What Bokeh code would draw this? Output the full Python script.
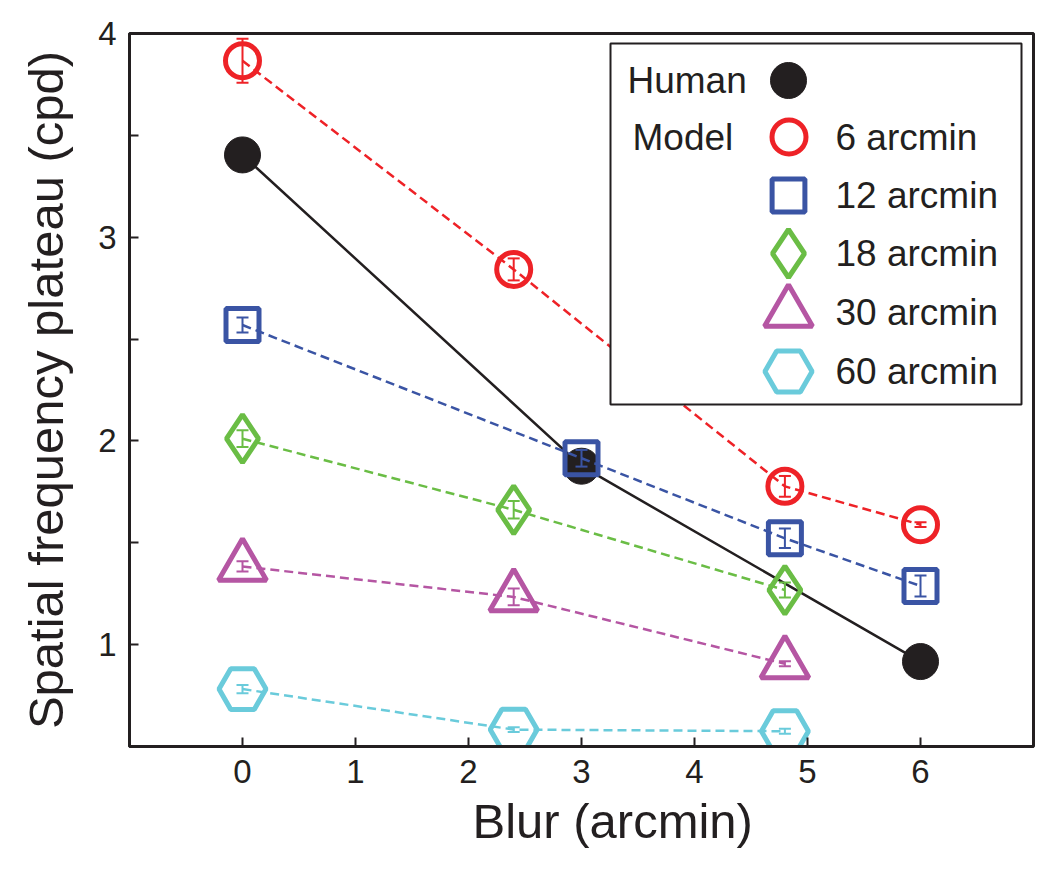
from bokeh.plotting import figure
from bokeh.models import (Range1d, FixedTicker, Whisker, TeeHead, ColumnDataSource,
                          Legend, LegendItem, Label, BoxAnnotation, Title)
from bokeh.embed import file_html
from bokeh.resources import INLINE

# ---------------- data ----------------
blur_human = [0, 3, 6]
plateau_human = [3.404, 1.876, 0.917]

blur_6 = [0, 2.4, 4.8, 6]
plateau_6 = [3.866, 2.842, 1.777, 1.589]
err_6 = [0.108, 0.054, 0.051, 0.012]

blur_12 = [0, 3, 4.8, 6]
plateau_12 = [2.569, 1.915, 1.522, 1.288]
err_12 = [0.037, 0.041, 0.048, 0.052]

blur_18 = [0, 2.4, 4.8]
plateau_18 = [2.011, 1.662, 1.268]
err_18 = [0.041, 0.043, 0.037]

blur_30 = [0, 2.4, 4.8]
plateau_30 = [1.384, 1.234, 0.906]
err_30 = [0.025, 0.041, 0.012]

blur_60 = [0, 2.4, 4.8]
plateau_60 = [0.782, 0.583, 0.575]
err_60 = [0.020, 0.012, 0.012]

series_labels = ["6 arcmin", "12 arcmin", "18 arcmin", "30 arcmin", "60 arcmin"]
x_ticks = [0, 1, 2, 3, 4, 5, 6]
y_ticks = [1, 2, 3, 4]
y_minor_ticks = [1.5, 2.5, 3.5]

# ---------------- styles ----------------
INK = "#231F20"
FONT = "Liberation Sans"
colors = ["#EE2227", "#3A54A4", "#6ABD45", "#B556A3", "#6ACBDB"]
markers = ["circle", "square", "diamond", "triangle", "hex"]
msizes = [34, 33, 48, 48, 47]

FRAME_W, FRAME_H = 904, 713
p = figure(frame_width=FRAME_W, frame_height=FRAME_H,
           x_range=Range1d(-1, 7), y_range=Range1d(0.5, 4),
           output_backend="svg", toolbar_location=None,
           min_border_left=129, min_border_top=33, min_border_right=8, min_border_bottom=118)
p.grid.visible = False
p.background_fill_color = "white"
p.outline_line_color = INK
p.outline_line_width = 3
p.outline_line_alpha = 1

for ax in (p.xaxis[0], p.yaxis[0]):
    ax.axis_line_width = 3
    ax.axis_line_color = INK
    ax.major_tick_in = 9
    ax.major_tick_out = 0
    ax.major_tick_line_width = 2
    ax.major_tick_line_color = INK
    ax.major_label_text_font = FONT
    ax.major_label_text_font_size = "33px"
    ax.major_label_text_color = INK

p.xaxis[0].ticker = FixedTicker(ticks=x_ticks)
p.xaxis[0].minor_tick_line_color = None
p.xaxis[0].major_label_standoff = 13

p.yaxis[0].ticker = FixedTicker(ticks=y_ticks, minor_ticks=y_minor_ticks)
p.yaxis[0].minor_tick_in = 9
p.yaxis[0].minor_tick_out = 0
p.yaxis[0].minor_tick_line_width = 2
p.yaxis[0].minor_tick_line_color = INK
p.yaxis[0].major_label_standoff = 13
p.yaxis[0].axis_label = "Spatial frequency plateau (cpd)"
p.yaxis[0].axis_label_text_font = FONT
p.yaxis[0].axis_label_text_font_size = "49px"
p.yaxis[0].axis_label_text_font_style = "normal"
p.yaxis[0].axis_label_text_color = INK
p.yaxis[0].axis_label_standoff = 22

xtitle = Title(text="Blur (arcmin)", align="left", offset=343,
               text_font=FONT, text_font_size="49px", text_font_style="normal",
               text_color=INK, standoff=12)
p.add_layout(xtitle, "below")

# ---------------- human ----------------
p.line(blur_human, plateau_human, line_color=INK, line_width=2.5)
human_r = p.scatter(blur_human, plateau_human, marker="circle", size=36,
                    fill_color=INK, line_color=INK, line_width=1)

# ---------------- model ----------------
xs = [blur_6, blur_12, blur_18, blur_30, blur_60]
ys = [plateau_6, plateau_12, plateau_18, plateau_30, plateau_60]
es = [err_6, err_12, err_18, err_30, err_60]
model_rs = []
for x, y, e, c, m, s in zip(xs, ys, es, colors, markers, msizes):
    p.line(x, y, line_color=c, line_width=2.5, line_dash="9 5")
    src = ColumnDataSource(dict(x=x, upper=[a + b for a, b in zip(y, e)],
                                lower=[a - b for a, b in zip(y, e)]))
    w = Whisker(source=src, base="x", upper="upper", lower="lower",
                line_color=c, line_width=2, level="glyph",
                upper_head=TeeHead(size=12, line_color=c, line_width=2),
                lower_head=TeeHead(size=12, line_color=c, line_width=2))
    p.add_layout(w)
    r = p.scatter(x, y, marker=m, size=s, fill_color=None, line_color=c, line_width=5)
    model_rs.append(r)

# ---------------- legend (frame-relative screen px) ----------------
box = BoxAnnotation(left=481, right=892, top=703, bottom=342,
                    left_units="screen", right_units="screen",
                    top_units="screen", bottom_units="screen",
                    fill_color="white", fill_alpha=1,
                    line_color=INK, line_width=2, line_alpha=1, level="annotation")
p.add_layout(box)

LEG_CX = 659
LEG_LABEL_X = 706
row_y = [666, 609, 551, 493, 434, 375]

leg_marks = [(human_r, 36)] + list(zip(model_rs, msizes))
for (r, s), cy in zip(leg_marks, row_y):
    g = int(round(s / 0.4))
    leg = Legend(items=[LegendItem(label="", renderers=[r])],
                 location=(LEG_CX - g // 2, cy - g // 2),
                 glyph_width=g, glyph_height=g, label_standoff=0,
                 label_width=0, label_height=0,
                 padding=0, margin=0, spacing=0,
                 border_line_color=None, background_fill_alpha=0,
                 label_text_font=FONT, label_text_font_size="37px",
                 label_text_color=INK)
    p.add_layout(leg)

text_rows = [("Human", 498, row_y[0]), ("Model", 503, row_y[1])]
text_rows += [(lab, LEG_LABEL_X, cy) for lab, cy in zip(series_labels, row_y[1:])]
for txt, lx, ly in text_rows:
    p.add_layout(Label(x=lx, y=ly, x_units="screen", y_units="screen", text=txt,
                       text_font=FONT, text_font_size="37px", text_color=INK,
                       text_align="left", text_baseline="middle"))

open("out.html", "w").write(file_html(p, INLINE))
